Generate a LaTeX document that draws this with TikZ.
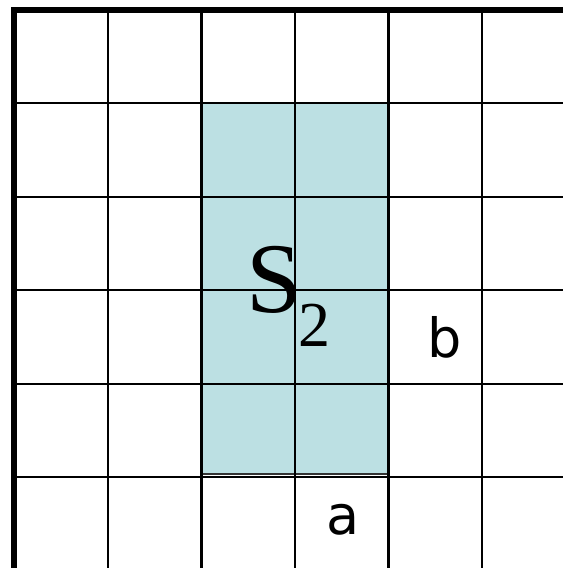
\documentclass[tikz,border=0pt]{standalone}
\usepackage{fontspec}
\setmainfont{Liberation Serif}
\newfontfamily\regionfont{Liberation Serif}
\newfontfamily\labelfont{DejaVu Sans}
\usetikzlibrary{positioning}

\definecolor{regcol}{RGB}{188,224,227}
\tikzset{
  gridline/.style={draw=black, line width=2.4pt},
  frameline/.style={draw=black, line width=6pt},
  region/.style={fill=regcol, draw=black!80, line width=1.2pt},
  cell label/.style={inner sep=0pt, anchor=base, font=\labelfont\fontsize{54}{54}\selectfont}
}

\begin{document}
\begin{tikzpicture}[x=1pt, y=1pt]
  \useasboundingbox (0,0) rectangle (563,568);

  % Regione S2
  \path[region] (201.5,465) rectangle (387.5,94);

  % Griglia
  \foreach \gx in {108,201.5,295,388.5,482}
    \draw[gridline] (\gx,0) -- (\gx,558);
  \foreach \gy in {465,371,278,184,91}
    \draw[gridline] (14,\gy) -- (563,\gy);

  % Bordo spesso
  \coordinate (angolo) at (14,558);
  \coordinate (basso) at (14,0);
  \coordinate (destra) at (563,558);
  \draw[frameline] (basso) -- (angolo);
  \draw[frameline] ([xshift=-3pt]angolo) -- (destra);

  % Etichette
  \node[inner sep=0pt, anchor=base west, font=\regionfont] (s2) at (246,255)
    {\fontsize{100}{100}\selectfont S\hspace{-3pt}\raisebox{-34pt}{\fontsize{64}{64}\selectfont 2}};
  \node[cell label] (b) at (445,210) {b};
  \node[cell label] (a) at (343,34) {a};
\end{tikzpicture}
\end{document}
